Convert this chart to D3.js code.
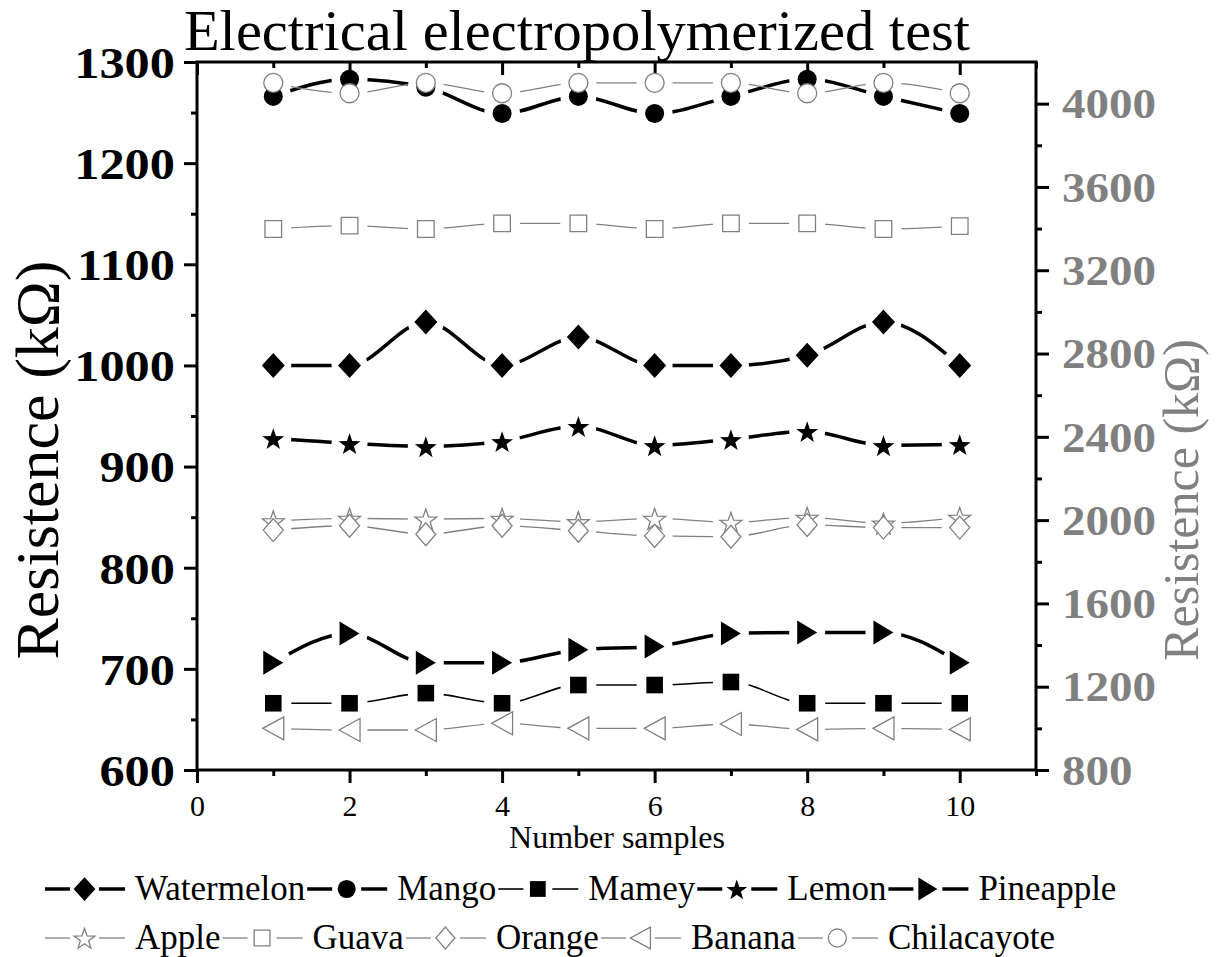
<!DOCTYPE html>
<html>
<head>
<meta charset="utf-8">
<script src="https://cdn.jsdelivr.net/npm/d3@7"></script>
<style>
  body { margin: 0; background: #fff; }
  svg { display: block; }
  text { font-family: "Liberation Serif", "Times New Roman", serif; }
</style>
</head>
<body>
<svg id="chart" width="1220" height="957"></svg>
<script>
// ---------------- data ----------------
const samples = [1, 2, 3, 4, 5, 6, 7, 8, 9, 10];
const watermelon = [1000, 1000, 1043, 1000, 1028, 1000, 1000, 1010, 1043, 1000];
const mango = [1266, 1283, 1275, 1249, 1266, 1249, 1266, 1283, 1266, 1249];
const mamey = [666, 666, 676, 666, 684, 684, 687, 666, 666, 666];
const lemon = [928, 923, 920, 925, 940, 921, 927, 935, 921, 922];
const pineapple = [706, 735, 706, 706, 719, 722, 735, 736, 736, 706];
const apple = [1996, 2008, 2005, 2008, 1992, 2008, 1989, 2013, 1985, 2013];
const guava = [3398, 3414, 3398, 3425, 3425, 3398, 3425, 3425, 3398, 3412];
const orange = [1952, 1973, 1932, 1973, 1949, 1924, 1920, 1977, 1964, 1964];
const banana = [1000, 992, 992, 1024, 1000, 1000, 1021, 995, 1000, 995];
const chilacayote = [4100, 4050, 4100, 4050, 4100, 4100, 4100, 4050, 4100, 4050];

const xTicks = [0, 2, 4, 6, 8, 10];
const xMinorTicks = [1, 3, 5, 7, 9, 11];
const leftTicks = [600, 700, 800, 900, 1000, 1100, 1200, 1300];
const leftMinorTicks = [650, 750, 850, 950, 1050, 1150, 1250];
const rightTicks = [800, 1200, 1600, 2000, 2400, 2800, 3200, 3600, 4000];
const rightMinorTicks = [1000, 1400, 1800, 2200, 2600, 3000, 3400, 3800];

const titleText = "Electrical electropolymerized test";
const xTitle = "Number samples";
const yTitle = "Resistence (kΩ)";

const GRAY = "#808080";

// series definitions (style)
const series = [
  { name: "Watermelon", values: watermelon, axis: "L", shape: "diamond", fill: "#000", stroke: "#000", lw: 3.5 },
  { name: "Mango", values: mango, axis: "L", shape: "circle", fill: "#000", stroke: "#000", lw: 3.5 },
  { name: "Mamey", values: mamey, axis: "L", shape: "square", fill: "#000", stroke: "#000", lw: 1.6 },
  { name: "Lemon", values: lemon, axis: "L", shape: "star", fill: "#000", stroke: "#000", lw: 3.5 },
  { name: "Pineapple", values: pineapple, axis: "L", shape: "triRight", fill: "#000", stroke: "#000", lw: 3.5 },
  { name: "Apple", values: apple, axis: "R", shape: "star", fill: "#fff", stroke: GRAY, lw: 1.3 },
  { name: "Guava", values: guava, axis: "R", shape: "square", fill: "#fff", stroke: GRAY, lw: 1.3 },
  { name: "Orange", values: orange, axis: "R", shape: "diamondS", fill: "#fff", stroke: GRAY, lw: 1.3 },
  { name: "Banana", values: banana, axis: "R", shape: "triLeft", fill: "#fff", stroke: GRAY, lw: 1.3 },
  { name: "Chilacayote", values: chilacayote, axis: "R", shape: "circle", fill: "#fff", stroke: GRAY, lw: 1.3 }
];

// ---------------- layout ----------------
const L = 197, R = 1036, T = 62, B = 770;
const x = d3.scaleLinear().domain([0, 11]).range([L, R]);
const yL = d3.scaleLinear().domain([600, 1300]).range([B, T]);
const yR = d3.scaleLinear().domain([800, 4200]).range([B, T]);

const svg = d3.select("#chart");

// marker paths
function markerPath(shape, k = 1) {
  const p = d3.path();
  if (shape === "diamond") {
    const w = 11.5 * k, h = 12.5 * k;
    p.moveTo(0, -h); p.lineTo(w, 0); p.lineTo(0, h); p.lineTo(-w, 0); p.closePath();
  } else if (shape === "diamondS") {
    const w = 10 * k, h = 11.5 * k;
    p.moveTo(0, -h); p.lineTo(w, 0); p.lineTo(0, h); p.lineTo(-w, 0); p.closePath();
  } else if (shape === "circle") {
    const r = 9.5 * k;
    p.moveTo(r, 0); p.arc(0, 0, r, 0, 2 * Math.PI); p.closePath();
  } else if (shape === "square") {
    const s = 8.3 * k;
    p.rect(-s, -s, 2 * s, 2 * s);
  } else if (shape === "star") {
    const Ro = 11.5 * k, Ri = Ro * 0.40;
    for (let i = 0; i < 10; i++) {
      const rr = i % 2 === 0 ? Ro : Ri;
      const a = -Math.PI / 2 + i * Math.PI / 5;
      const px = rr * Math.cos(a), py = rr * Math.sin(a) + 1.5 * k;
      if (i === 0) p.moveTo(px, py); else p.lineTo(px, py);
    }
    p.closePath();
  } else if (shape === "triRight") {
    const w = 10 * k, h = 12 * k;
    p.moveTo(-w, -h); p.lineTo(w, 0); p.lineTo(-w, h); p.closePath();
  } else if (shape === "triLeft") {
    const w = 10.5 * k, h = 11.5 * k;
    p.moveTo(w, -h); p.lineTo(-w, 0); p.lineTo(w, h); p.closePath();
  }
  return p.toString();
}

// ---------------- axes ----------------
const axisStyle = g => {
  g.selectAll(".domain").remove();
  g.selectAll(".tick line").attr("stroke", "#000").attr("stroke-width", 3);
};

// bottom
svg.append("g").attr("transform", `translate(0,${B})`)
  .call(d3.axisBottom(x).tickValues(xTicks).tickSize(13).tickSizeOuter(0).tickFormat(d3.format("d")))
  .call(axisStyle)
  .call(g => g.selectAll(".tick text").attr("font-size", 30).attr("fill", "#000")
    .attr("font-family", "Liberation Serif, serif").attr("dy", null).attr("y", 46));
svg.append("g").attr("transform", `translate(0,${B})`)
  .call(d3.axisBottom(x).tickValues(xMinorTicks).tickSize(6).tickSizeOuter(0).tickFormat(""))
  .call(axisStyle);
// top (inward)
svg.append("g").attr("transform", `translate(0,${T})`)
  .call(d3.axisBottom(x).tickValues(xTicks).tickSize(13).tickSizeOuter(0).tickFormat(""))
  .call(axisStyle);
svg.append("g").attr("transform", `translate(0,${T})`)
  .call(d3.axisBottom(x).tickValues(xMinorTicks).tickSize(6).tickSizeOuter(0).tickFormat(""))
  .call(axisStyle);
// left
svg.append("g").attr("transform", `translate(${L},0)`)
  .call(d3.axisLeft(yL).tickValues(leftTicks).tickSize(13).tickSizeOuter(0).tickFormat(d3.format("d")))
  .call(axisStyle)
  .call(g => g.selectAll(".tick text").attr("font-size", 45).attr("font-weight", "bold").attr("fill", "#000")
    .attr("font-family", "Liberation Serif, serif").attr("x", 0).attr("dy", "0.34em")
    .attr("transform", "translate(-22,0) scale(1.12,1)"));
svg.append("g").attr("transform", `translate(${L},0)`)
  .call(d3.axisLeft(yL).tickValues(leftMinorTicks).tickSize(6).tickSizeOuter(0).tickFormat(""))
  .call(axisStyle);
// right
svg.append("g").attr("transform", `translate(${R},0)`)
  .call(d3.axisRight(yR).tickValues(rightTicks).tickSize(13).tickSizeOuter(0).tickFormat(d3.format("d")))
  .call(axisStyle)
  .call(g => g.selectAll(".tick text").attr("font-size", 42).attr("font-weight", "bold").attr("fill", GRAY)
    .attr("font-family", "Liberation Serif, serif").attr("x", 0).attr("dy", "0.34em")
    .attr("transform", "translate(26,0) scale(1.12,1)"));
svg.append("g").attr("transform", `translate(${R},0)`)
  .call(d3.axisRight(yR).tickValues(rightMinorTicks).tickSize(6).tickSizeOuter(0).tickFormat(""))
  .call(axisStyle);

// frame
svg.append("rect").attr("x", L).attr("y", T).attr("width", R - L).attr("height", B - T)
  .attr("fill", "none").attr("stroke", "#000").attr("stroke-width", 3);

// ---------------- series ----------------
const defs = svg.append("defs");
series.forEach((s, i) => {
  const yS = s.axis === "L" ? yL : yR;
  const pts = samples.map((d, j) => [x(d), yS(s.values[j])]);
  const mask = defs.append("mask").attr("id", "m" + i)
    .attr("maskUnits", "userSpaceOnUse").attr("x", 0).attr("y", 0).attr("width", 1220).attr("height", 957);
  mask.append("rect").attr("x", 0).attr("y", 0).attr("width", 1220).attr("height", 957).attr("fill", "#fff");
  mask.selectAll("circle").data(pts).join("circle")
    .attr("cx", d => d[0]).attr("cy", d => d[1]).attr("r", 18).attr("fill", "#000");

  const line = d3.line().curve(d3.curveMonotoneX).x(d => d[0]).y(d => d[1]);
  const g = svg.append("g").attr("class", "series");
  g.append("path").attr("d", line(pts)).attr("fill", "none")
    .attr("stroke", s.stroke).attr("stroke-width", s.lw).attr("mask", `url(#m${i})`);
  g.selectAll("path.mk").data(pts).join("path").attr("class", "mk")
    .attr("d", markerPath(s.shape))
    .attr("transform", d => `translate(${d[0]},${d[1]})`)
    .attr("fill", s.fill).attr("stroke", s.stroke).attr("stroke-width", s.fill === "#fff" ? 1.3 : 0);
});

// ---------------- titles ----------------
svg.append("text").attr("transform", "translate(577,50) scale(1.045,1)").attr("text-anchor", "middle")
  .attr("font-size", 56).attr("fill", "#000").text(titleText);
svg.append("text").attr("x", 617).attr("y", 848).attr("text-anchor", "middle")
  .attr("font-size", 32).attr("fill", "#000").text(xTitle);
svg.append("text").attr("transform", "translate(58,460) rotate(-90)").attr("text-anchor", "middle")
  .attr("font-size", 62).attr("fill", "#000").text(yTitle);
svg.append("text").attr("transform", "translate(1198,500) rotate(-90)").attr("text-anchor", "middle")
  .attr("font-size", 50).attr("fill", GRAY).text(yTitle);

// ---------------- legend ----------------
const rows = [series.slice(0, 5), series.slice(5)];
const rowY = [889, 938];
rows.forEach((row, ri) => {
  let cx = 45;
  const cy = rowY[ri];
  row.forEach(s => {
    const g = svg.append("g");
    g.append("line").attr("x1", cx).attr("x2", cx + 25).attr("y1", cy).attr("y2", cy)
      .attr("stroke", s.stroke).attr("stroke-width", s.lw);
    g.append("line").attr("x1", cx + 54).attr("x2", cx + 80).attr("y1", cy).attr("y2", cy)
      .attr("stroke", s.stroke).attr("stroke-width", s.lw);
    g.append("path").attr("d", markerPath(s.shape, 0.95)).attr("transform", `translate(${cx + 39.5},${cy})`)
      .attr("fill", s.fill).attr("stroke", s.stroke).attr("stroke-width", s.fill === "#fff" ? 1.3 : 0);
    const t = g.append("text").attr("x", cx + 90).attr("y", cy + 11).attr("font-size", 35)
      .attr("fill", "#000").text(s.name);
    cx = cx + 90 + t.node().getComputedTextLength() + 2;
  });
});
</script>
</body>
</html>
